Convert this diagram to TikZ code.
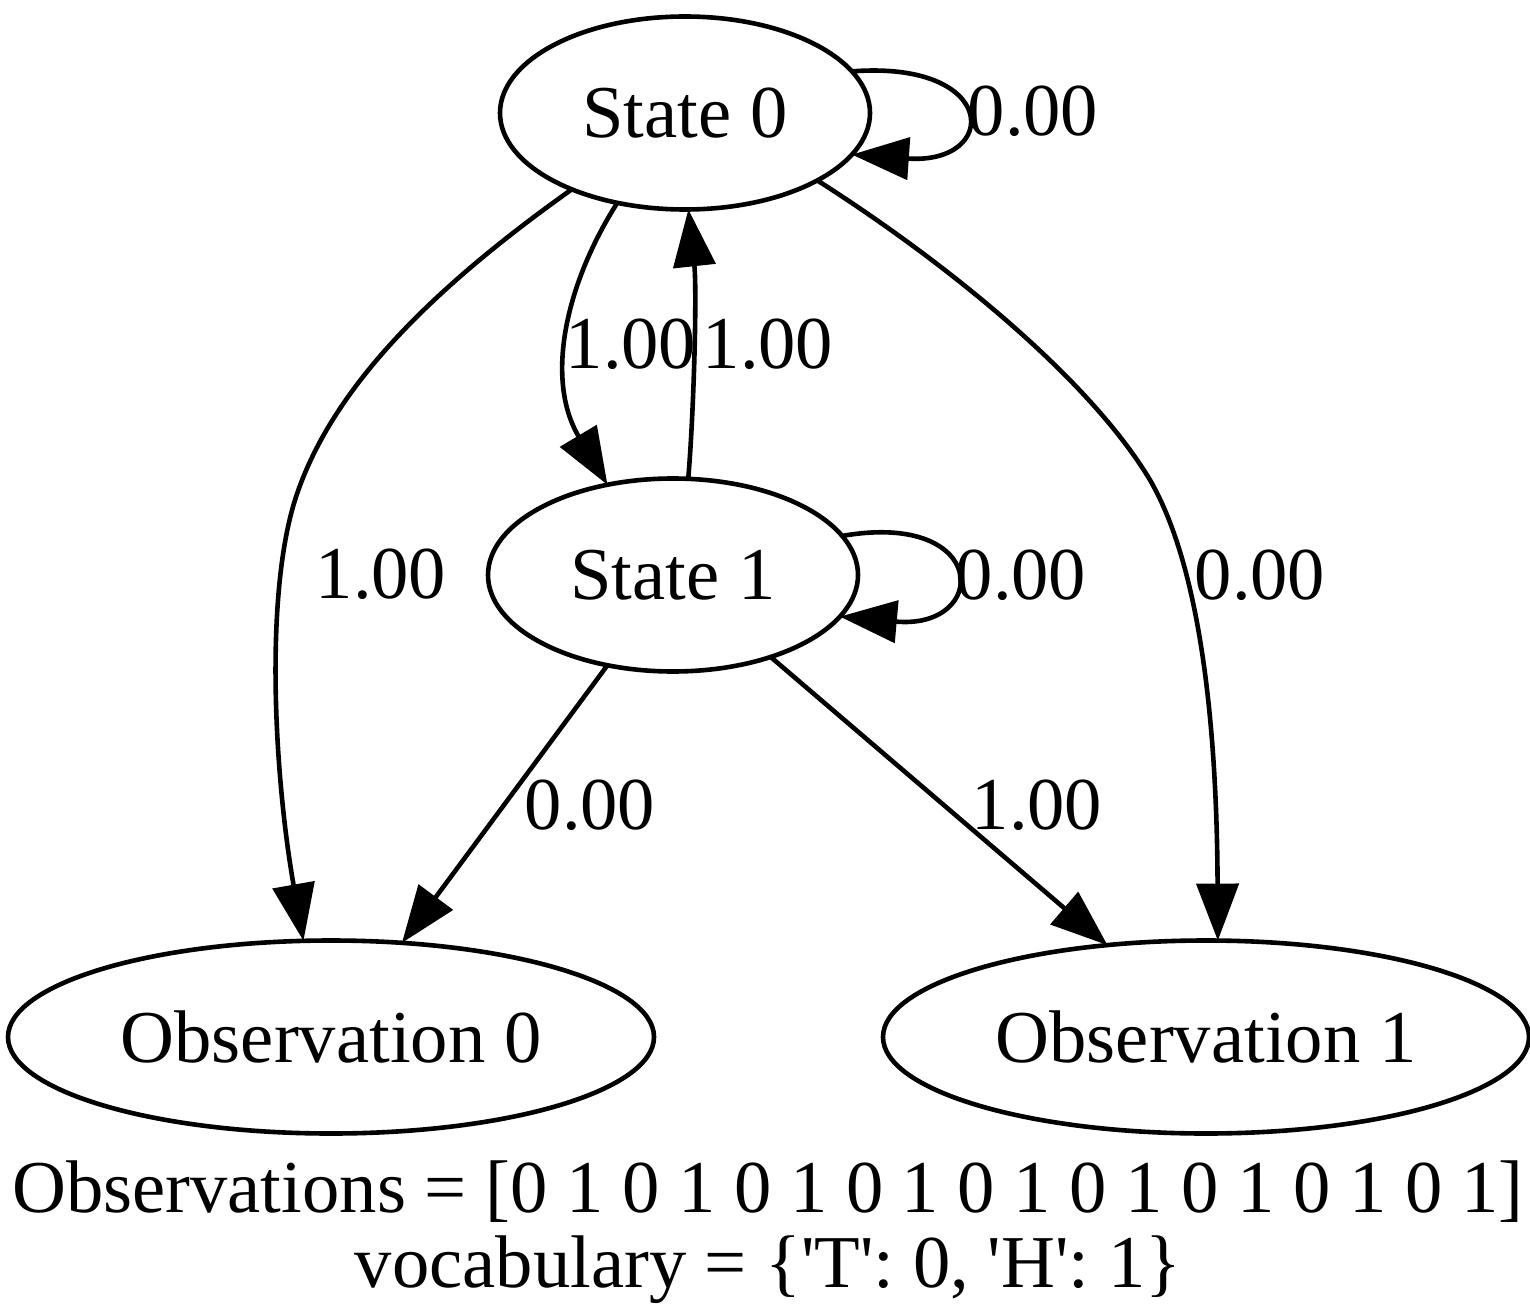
\documentclass[tikz,border=0pt]{standalone}
\usepackage{fontspec}
\setmainfont{Liberation Serif}
\usetikzlibrary{arrows.meta,shapes.geometric}
\begin{document}
\begin{tikzpicture}[x=0.5pt,y=-0.5pt,
  every node/.style={font=\fontsize{37.3}{37.5}\selectfont},
  stnode/.style={draw,ellipse,line width=2.3pt,inner sep=0pt,outer sep=0pt,minimum width=185pt,minimum height=96.5pt},
  obnode/.style={stnode,minimum width=323pt},
  conn/.style={line width=2.3pt,-{Triangle[length=28.5pt,width=21pt]}},
  lbl/.style={inner sep=0pt}
]
\useasboundingbox (0,0) rectangle (1530,1310);
\node[stnode] (s0) at (685,113) {State 0};
\node[stnode] (s1) at (673,575) {State 1};
\node[obnode] (o0) at (331,1037) {Observation 0};
\node[obnode] (o1) at (1206,1037) {Observation 1};

\draw[conn] (s0.14.4) .. controls (1000,60) and (1000,165) .. (s0.-14.1);
\draw[conn] (s0.-127.5) .. controls (565,285) and (545,380) .. (s1.126.9);
\draw[conn] (s1.81.3) .. controls (694,410) and (697,290) .. (s0.-88.8);
\draw[conn] (s0.-146.9) .. controls (430,290) and (330,390) .. (295,500) .. controls (264,599) and (275,780) .. (o0.106.6);
\draw[conn] (s0.-27.9) .. controls (950,265) and (1090,380) .. (1150,480) .. controls (1205,575) and (1217,750) .. (o1.83.5);
\draw[conn] (s1.13.2) .. controls (990,510) and (990,630) .. (s1.-14.1);
\draw[conn] (s1.-126.5) -- (o0.53.2);
\draw[conn] (s1.-40.6) -- (o1.137.7);

\node[lbl] (l1) at (1033,111) {0.00};
\node[lbl] (l2) at (631,344) {1.00};
\node[lbl] (l3) at (768,344) {1.00};
\node[lbl] (l4) at (381,574) {1.00};
\node[lbl] (l5) at (1021,575) {0.00};
\node[lbl] (l6) at (1260,575) {0.00};
\node[lbl] (l7) at (590,805) {0.00};
\node[lbl] (l8) at (1037,805) {1.00};

\node[lbl,anchor=base] (c1) at (768,1212) {Observations = [0 1 0 1 0 1 0 1 0 1 0 1 0 1 0 1 0 1]};
\node[lbl,anchor=base] (c2) at (768,1287) {vocabulary = \{\textquotesingle T\textquotesingle: 0, \textquotesingle H\textquotesingle: 1\}};
\end{tikzpicture}
\end{document}
